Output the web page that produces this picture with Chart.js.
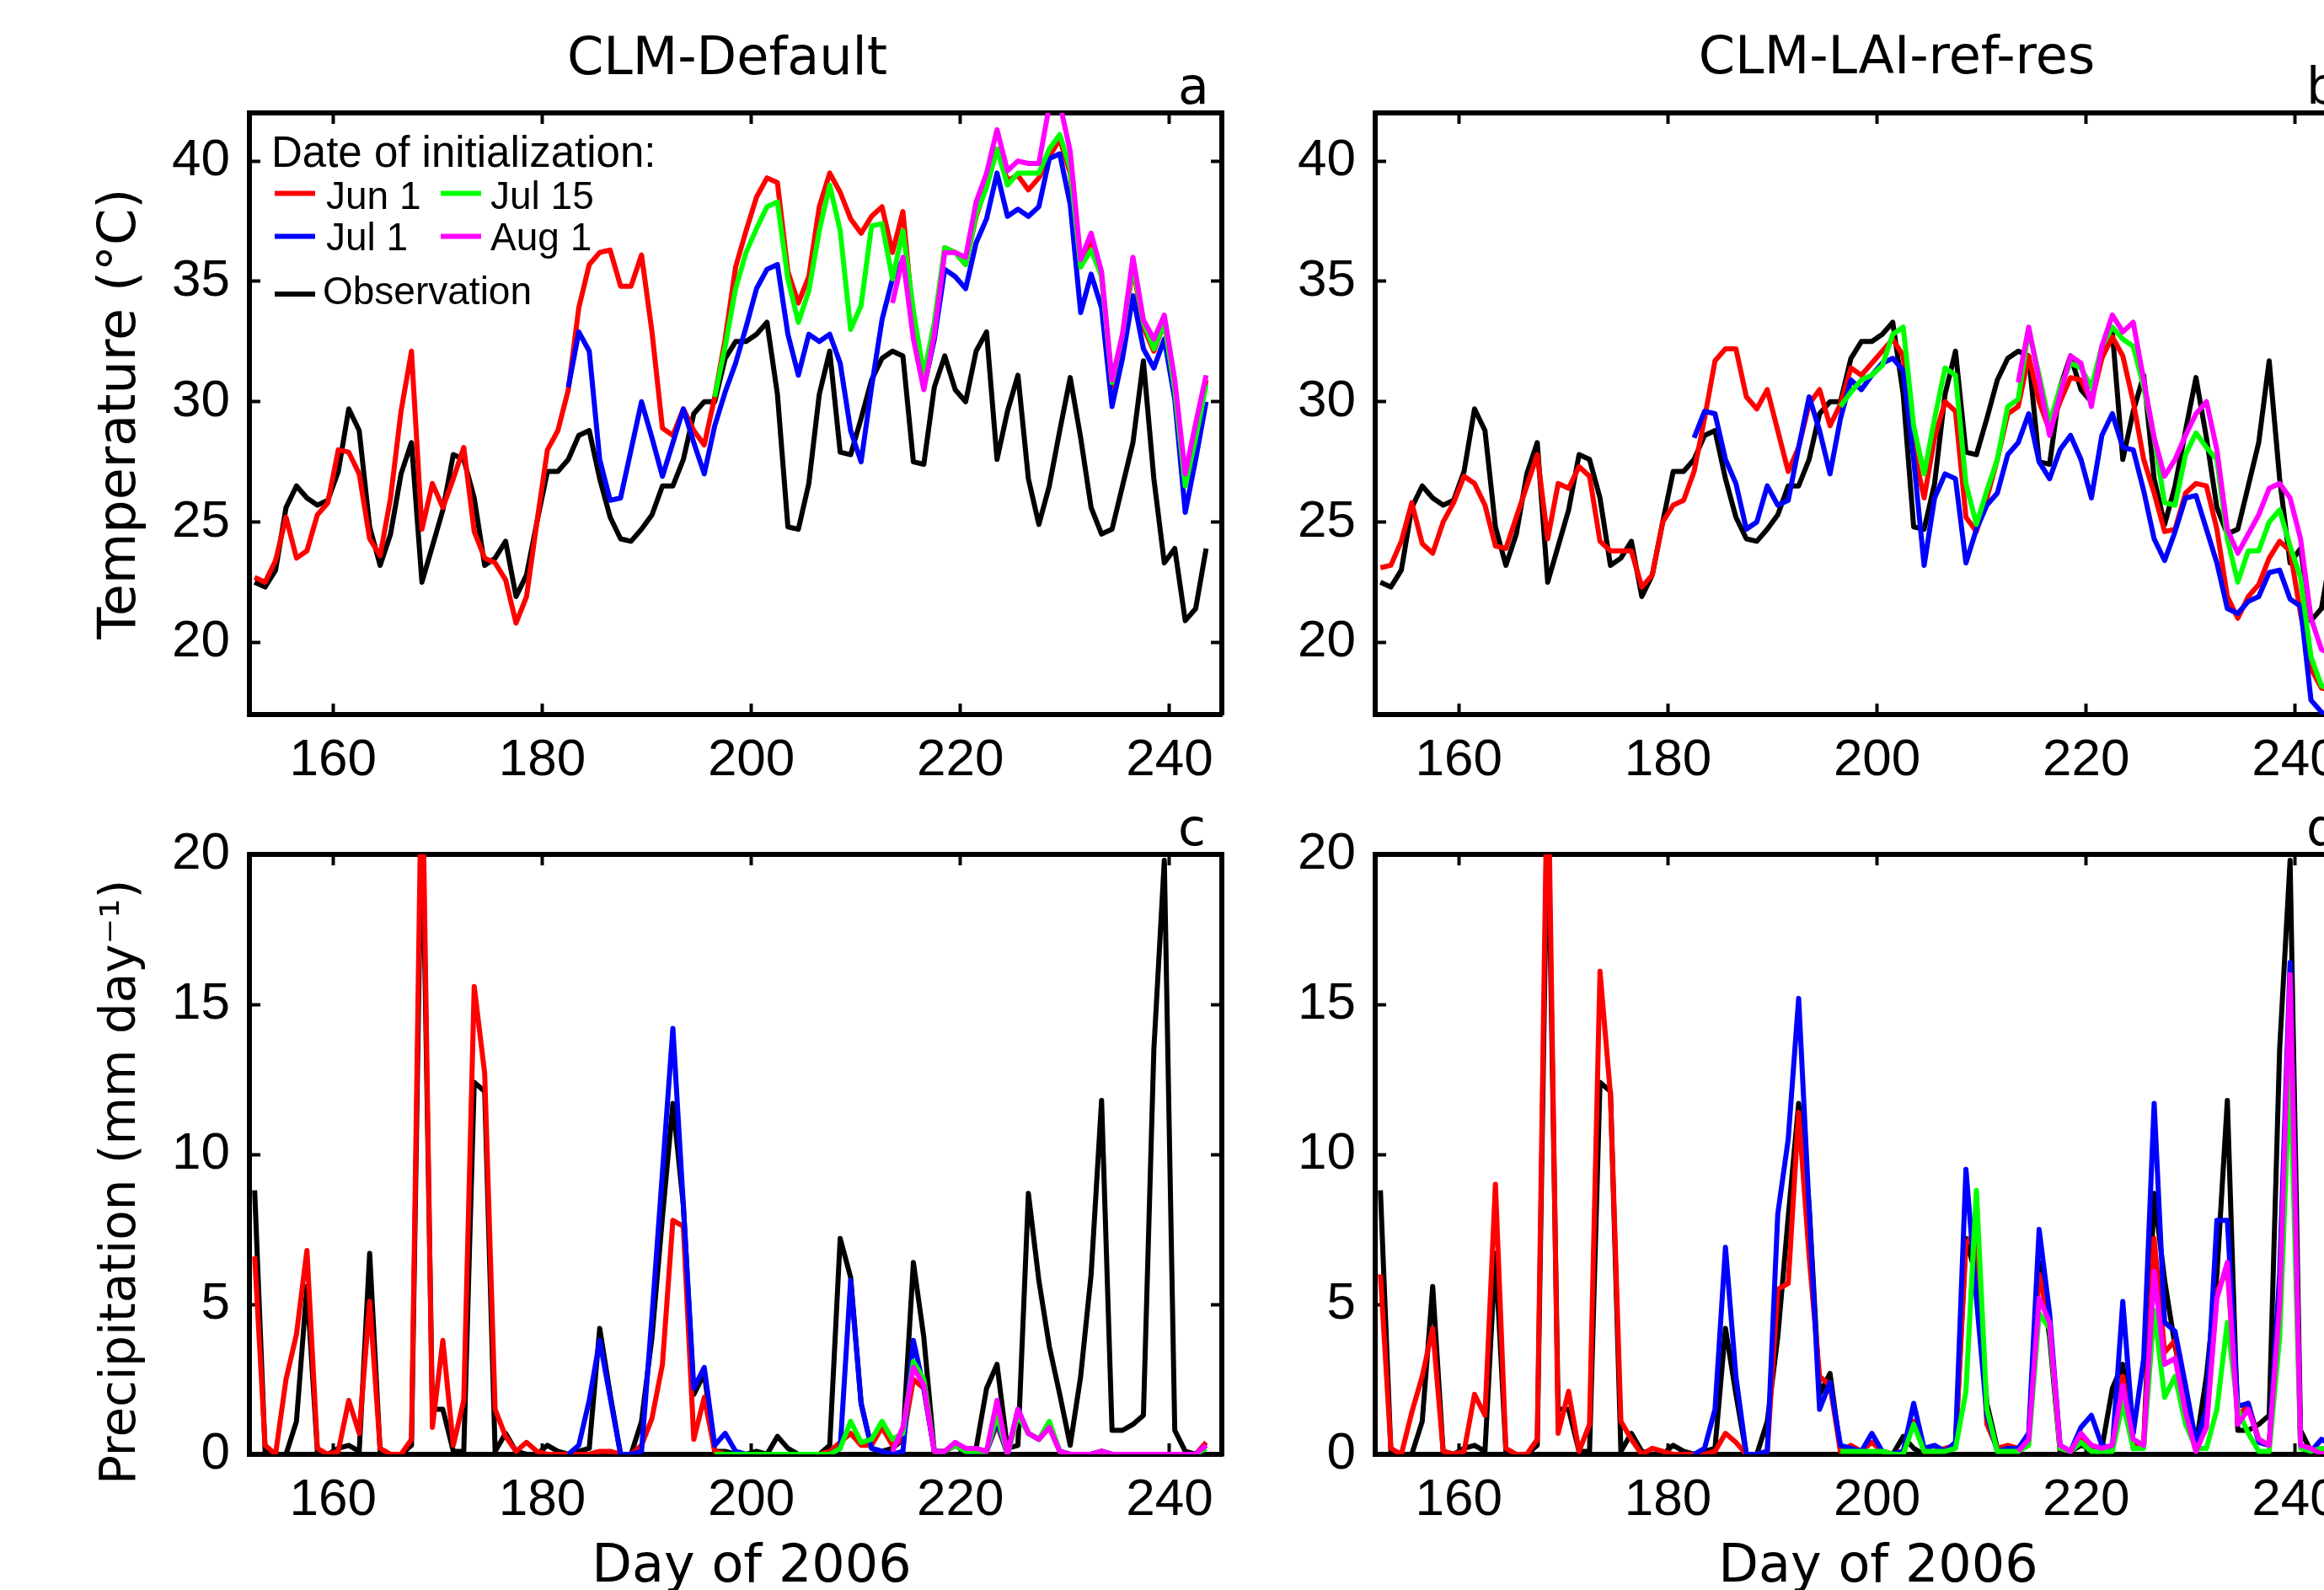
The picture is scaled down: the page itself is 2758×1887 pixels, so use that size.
<!DOCTYPE html>
<html lang="en">
<head>
    <meta charset="UTF-8">
    <title>CLM temperature and precipitation, summer 2006</title>
    <script src="https://cdn.jsdelivr.net/npm/chart.js"></script>
    <style>
        html, body { margin: 0; padding: 0; background: #fff; overflow: hidden; }
        body { position: relative; width: 2758px; height: 1887px; }
        canvas { position: absolute; }
    </style>
</head>
<body>
    <canvas id="panelA" width="1500" height="960" style="left:0;top:0"></canvas>
    <canvas id="panelB" width="1500" height="960" style="left:1336px;top:0"></canvas>
    <canvas id="panelC" width="1500" height="1012" style="left:0;top:880px"></canvas>
    <canvas id="panelD" width="1500" height="1012" style="left:1336px;top:880px"></canvas>

    <script>
        // Day of year (Jun 1 .. Aug 31 2006), daily values
        const days = [152, 153, 154, 155, 156, 157, 158, 159, 160, 161, 162, 163, 164, 165, 166, 167, 168, 169, 170, 171,
            172, 173, 174, 175, 176, 177, 178, 179, 180, 181, 182, 183, 184, 185, 186, 187, 188, 189, 190, 191,
            192, 193, 194, 195, 196, 197, 198, 199, 200, 201, 202, 203, 204, 205, 206, 207, 208, 209, 210, 211,
            212, 213, 214, 215, 216, 217, 218, 219, 220, 221, 222, 223, 224, 225, 226, 227, 228, 229, 230, 231,
            232, 233, 234, 235, 236, 237, 238, 239, 240, 241, 242, 243];

        // first day of each model run
        const startJun1 = 152;
        const startJul1 = 182;
        const startJul15 = 196;
        const startAug1 = 213;

        const dayTicks = [160, 180, 200, 220, 240];
        const tempTicks = [20, 25, 30, 35, 40];
        const precipTicks = [0, 5, 10, 15, 20];

        // ---- temperature (deg C) ----
        const tempObs = [22.5, 22.3, 23.0, 25.6, 26.5, 26.0, 25.7, 25.9, 27.1, 29.7,
            28.8, 24.8, 23.2, 24.5, 27.0, 28.3, 22.5, 24.0, 25.5, 27.8,
            27.6, 26.0, 23.2, 23.5, 24.2, 21.9, 22.8, 25.0, 27.1, 27.1,
            27.6, 28.6, 28.8, 26.8, 25.2, 24.3, 24.2, 24.7, 25.3, 26.5,
            26.5, 27.6, 29.5, 30.0, 30.0, 31.8, 32.5, 32.5, 32.8, 33.3,
            30.3, 24.8, 24.7, 26.6, 30.3, 32.1, 27.9, 27.8, 29.3, 30.9,
            31.8, 32.1, 31.9, 27.5, 27.4, 30.6, 31.9, 30.5, 30.0, 32.1,
            32.9, 27.6, 29.6, 31.1, 26.8, 24.9, 26.5, 28.8, 31.0, 28.5,
            25.6, 24.5, 24.7, 26.5, 28.3, 31.7, 26.8, 23.3, 23.9, 20.9,
            21.4, 23.9];

        // CLM-Default
        const tempDefJun1 = [22.7, 22.5, 23.4, 25.2, 23.5, 23.8, 25.3, 25.8, 28.0, 27.9,
            27.0, 24.3, 23.6, 26.0, 29.6, 32.1, 24.7, 26.6, 25.6, 26.8,
            28.1, 24.6, 23.5, 23.3, 22.6, 20.8, 21.9, 25.0, 28.0, 28.8,
            30.5, 33.9, 35.7, 36.2, 36.3, 34.8, 34.8, 36.1, 32.9, 28.9,
            28.6, 29.7, 28.8, 28.2, 30.2, 32.6, 35.6, 37.1, 38.5, 39.3,
            39.1, 35.4, 34.1, 35.2, 38.1, 39.5, 38.7, 37.6, 37.0, 37.7,
            38.1, 36.2, 37.9, 33.3, 30.6, 32.6, 36.4, 36.2, 35.7, 37.7,
            39.0, 40.5, 39.2, 39.4, 38.8, 39.3, 40.2, 40.9, 39.5, 35.6,
            36.8, 35.2, 30.6, 32.6, 35.6, 33.1, 32.1, 33.3, 30.3, 26.6,
            28.6, 30.9];
        const tempDefJul1 = [30.6, 32.9, 32.1, 27.6, 25.9, 26.0, 28.0, 30.0, 28.5, 26.9,
            28.3, 29.7, 28.3, 27.0, 29.0, 30.4, 31.6, 33.1, 34.7, 35.5,
            35.7, 32.8, 31.1, 32.8, 32.5, 32.8, 31.6, 28.8, 27.5, 30.6,
            33.4, 35.1, 35.9, 33.1, 30.6, 32.6, 35.5, 35.2, 34.7, 36.6,
            37.6, 39.5, 37.7, 38.0, 37.7, 38.1, 40.1, 40.3, 38.2, 33.7,
            35.3, 33.9, 29.8, 31.8, 34.4, 32.2, 31.4, 32.6, 30.1, 25.4,
            27.6, 30.0];
        const tempDefJul15 = [30.2, 32.3, 34.7, 36.2, 37.2, 38.1,
            38.3, 35.1, 33.3, 34.6, 37.1, 39.0, 37.1, 33.0, 34.0, 37.3,
            37.4, 35.1, 37.1, 33.8, 31.1, 33.3, 36.4, 36.2, 35.7, 37.8,
            38.9, 40.5, 39.0, 39.5, 39.5, 39.5, 40.5, 41.1, 39.7, 35.6,
            36.3, 35.2, 30.8, 32.8, 35.7, 33.3, 32.2, 33.3, 30.5, 26.5,
            28.5, 30.7];
        const tempDefAug1 = [34.1, 36.0, 32.6, 30.5, 32.8, 36.2, 36.2, 36.0, 38.3, 39.5,
            41.3, 39.6, 40.0, 39.9, 39.9, 42.3, 42.4, 40.4, 35.9, 37.0,
            35.4, 30.9, 32.8, 36.0, 33.4, 32.6, 33.6, 30.9, 27.0, 29.1,
            31.1];

        // CLM-LAI-ref-res
        const tempLaiJun1 = [23.1, 23.2, 24.2, 25.8, 24.1, 23.7, 25.0, 25.8, 26.9, 26.6,
            25.7, 24.0, 23.9, 25.2, 26.5, 27.8, 24.3, 26.6, 26.4, 27.3,
            26.9, 24.2, 23.8, 23.8, 23.8, 22.3, 22.8, 25.0, 25.7, 25.9,
            27.1, 29.3, 31.7, 32.2, 32.2, 30.2, 29.7, 30.5, 28.8, 27.1,
            28.1, 29.9, 30.5, 29.0, 29.9, 31.4, 31.1, 31.6, 32.1, 32.6,
            31.9, 28.0, 26.0, 28.5, 30.0, 29.6, 25.2, 24.6, 26.0, 27.6,
            29.5, 29.8, 31.9, 30.0, 28.8, 30.0, 31.0, 30.9, 30.0, 31.8,
            32.7, 31.9, 30.0, 27.6, 26.2, 24.6, 24.7, 26.2, 26.6, 26.5,
            24.7, 21.9, 21.0, 21.9, 22.4, 23.5, 24.2, 23.8, 21.2, 18.9,
            18.1, 18.0];
        const tempLaiJul1 = [28.5, 29.6, 29.5, 27.6, 26.6, 24.7, 25.0, 26.5, 25.7, 25.9,
            28.1, 30.2, 28.8, 27.0, 29.3, 30.9, 30.5, 31.1, 31.6, 31.8,
            31.3, 27.6, 23.2, 26.0, 27.0, 26.8, 23.3, 24.7, 25.7, 26.2,
            27.8, 28.3, 29.5, 27.5, 26.8, 28.0, 28.6, 27.6, 26.0, 28.6,
            29.5, 28.1, 28.0, 26.3, 24.3, 23.4, 24.6, 26.0, 26.1, 24.7,
            23.3, 21.4, 21.2, 21.7, 21.9, 22.9, 23.0, 21.8, 21.5, 17.6,
            17.1, 16.8];
        const tempLaiJul15 = [29.8, 30.4, 30.9, 31.1, 31.5, 32.8,
            33.1, 29.0, 27.0, 29.3, 31.4, 31.1, 26.6, 24.9, 26.3, 27.6,
            29.8, 30.1, 33.0, 31.1, 29.1, 30.6, 31.6, 31.4, 30.6, 32.3,
            33.1, 32.6, 32.3, 30.6, 28.5, 25.8, 25.7, 27.8, 28.7, 28.1,
            27.6, 24.3, 22.5, 23.8, 23.8, 25.0, 25.5, 24.0, 22.7, 19.4,
            18.2, 18.0];
        const tempLaiAug1 = [30.8, 33.1, 30.9, 28.6, 30.3, 31.9, 31.6, 29.8, 32.3, 33.6,
            32.9, 33.3, 30.9, 28.5, 26.9, 27.6, 28.6, 29.5, 30.0, 28.0,
            24.7, 23.7, 24.5, 25.3, 26.4, 26.6, 26.0, 24.3, 21.0, 19.7,
            19.5];

        // ---- precipitation (mm/day) ----
        const precipObs = [8.8, 0.1, 0, 0, 1.1, 5.6, 0.1, 0, 0.2, 0.3,
            0.1, 6.7, 0.1, 0, 0, 0.3, 22, 1.5, 1.5, 0.1,
            0.1, 12.4, 12.1, 0.1, 0.7, 0.1, 0, 0, 0.3, 0.1,
            0, 0.1, 0.2, 4.2, 2.0, 0, 0, 1.1, 3.9, 7.9,
            11.7, 8.3, 2.0, 2.7, 0.1, 0.1, 0, 0, 0.1, 0,
            0.6, 0.2, 0, 0, 0, 0.3, 7.2, 5.9, 1.7, 0.2,
            0.1, 0.2, 0.5, 6.4, 3.9, 0.1, 0.1, 0.3, 0.2, 0.2,
            2.2, 3.0, 0.2, 0.3, 8.7, 5.8, 3.6, 2.0, 0.3, 2.6,
            6.0, 11.8, 0.8, 0.8, 1.0, 1.3, 13.5, 19.8, 0.8, 0.1,
            0, 0];

        const precipDefJun1 = [6.6, 0.3, 0, 2.5, 4.0, 6.8, 0.2, 0, 0.1, 1.8,
            0.7, 5.1, 0.2, 0, 0, 0.5, 24, 0.9, 3.8, 0.3,
            1.8, 15.6, 12.7, 1.5, 0.6, 0.1, 0.4, 0.1, 0, 0,
            0, 0, 0, 0.1, 0.1, 0, 0, 0.3, 1.2, 3.0,
            7.8, 7.6, 0.5, 1.9, 0.1, 0, 0, 0, 0, 0,
            0, 0, 0, 0, 0, 0.1, 0.4, 0.7, 0.3, 0.3,
            0.9, 0.3, 0.5, 2.5, 2.2, 0.1, 0.1, 0.3, 0.1, 0.1,
            0.1, 1.0, 0, 1.4, 0.7, 0.5, 0.9, 0.1, 0, 0,
            0, 0.1, 0, 0, 0, 0, 0, 0, 0, 0,
            0, 0.4];
        const precipDefJul1 = [0, 0.3, 1.8, 3.8, 1.9, 0, 0, 0.1, 4.6, 9.4,
            14.2, 8.3, 2.2, 2.9, 0.3, 0.7, 0.1, 0, 0, 0,
            0, 0, 0, 0, 0, 0, 0.2, 5.8, 1.7, 0.2,
            0.1, 0, 0.1, 3.8, 2.2, 0.1, 0.1, 0.3, 0.1, 0.1,
            0.1, 1.1, 0, 1.5, 0.7, 0.5, 1.0, 0.1, 0, 0,
            0, 0.1, 0, 0, 0, 0, 0, 0, 0, 0,
            0, 0.3];
        const precipDefJul15 = [0, 0, 0, 0, 0, 0,
            0, 0, 0, 0, 0, 0, 0.2, 1.1, 0.4, 0.5,
            1.1, 0.5, 0.7, 3.1, 2.5, 0.1, 0.1, 0.3, 0.1, 0.1,
            0.1, 1.3, 0, 1.3, 0.7, 0.5, 1.1, 0.1, 0, 0,
            0, 0, 0, 0, 0, 0, 0, 0, 0, 0,
            0, 0.2];
        const precipDefAug1 = [0.1, 0.9, 2.9, 2.3, 0.1, 0.1, 0.4, 0.2, 0.2, 0.1,
            1.8, 0, 1.5, 0.7, 0.5, 0.9, 0.1, 0, 0, 0,
            0.1, 0, 0, 0, 0, 0, 0, 0, 0, 0,
            0.3];

        const precipLaiJun1 = [6.0, 0.2, 0, 1.4, 2.6, 4.2, 0.1, 0, 0.1, 2.0,
            1.3, 9.0, 0.2, 0, 0, 0.5, 24, 0.7, 2.1, 0.1,
            1.0, 16.1, 12.0, 1.1, 0.5, 0, 0.2, 0.1, 0, 0,
            0, 0, 0.1, 0.7, 0.4, 0, 0, 0.1, 5.5, 5.7,
            11.4, 6.6, 2.6, 2.3, 0.1, 0.3, 0.1, 0.4, 0.1, 0,
            0.1, 1.1, 0.1, 0.1, 0.2, 0.3, 7.0, 7.5, 1.0, 0.2,
            0.3, 0.2, 0.6, 6.0, 4.4, 0.2, 0.1, 0.6, 0.3, 0.2,
            0.3, 2.6, 0.4, 0.3, 7.2, 3.4, 3.8, 1.3, 0.1, 1.0,
            5.4, 6.2, 1.2, 1.7, 0.5, 0.3, 5.5, 15.8, 0.3, 0.2,
            0.1, 0.1];
        const precipLaiJul1 = [0, 0.2, 1.5, 6.9, 2.6, 0, 0, 0.1, 8.0, 10.5,
            15.2, 8.2, 1.5, 2.4, 0.3, 0.2, 0.1, 0.7, 0.1, 0,
            0.1, 1.7, 0.2, 0.3, 0.1, 0.4, 9.5, 5.2, 1.3, 0.1,
            0.2, 0.2, 0.7, 7.5, 4.7, 0.3, 0.1, 0.9, 1.3, 0.3,
            0.2, 5.1, 0.7, 3.2, 11.7, 4.4, 4.1, 2.3, 0.4, 1.5,
            7.8, 7.8, 1.6, 1.7, 0.4, 0.3, 6.0, 16.4, 0.3, 0.1,
            0.5, 0.3];
        const precipLaiJul15 = [0.1, 0.1, 0.1, 0.1, 0.1, 0,
            0, 1.0, 0.1, 0.1, 0.1, 0.2, 2.1, 8.8, 1.5, 0.1,
            0.1, 0.1, 0.3, 4.7, 4.2, 0.2, 0.1, 0.4, 0.1, 0.1,
            0.1, 1.7, 0.2, 0.2, 4.8, 1.9, 2.6, 1.0, 0.2, 0.2,
            1.5, 4.4, 1.5, 0.7, 0.1, 0.1, 3.9, 13.0, 0.2, 0.1,
            0.2, 0.1];
        const precipLaiAug1 = [0.1, 0.5, 5.2, 4.4, 0.3, 0.1, 0.7, 0.3, 0.2, 0.3,
            2.3, 0.5, 0.3, 6.1, 3.0, 3.2, 1.4, 0.1, 0.9, 5.2,
            6.4, 1.0, 1.5, 0.5, 0.3, 5.0, 16.0, 0.3, 0.2, 0,
            0.1];

        const RED = '#ff0000', BLUE = '#0000ff', GREEN = '#00ff00', MAGENTA = '#ff00ff', BLACK = '#000000';
        const tickFont = { family: "'Liberation Sans', Arial, sans-serif", size: 62 };

        // daily means are drawn at mid-day
        function points(values, startDay) {
            const i0 = days.indexOf(startDay);
            return values.map((v, i) => ({ x: days[i0 + i] + 0.5, y: v }));
        }

        function line(label, color, values, startDay, order) {
            return {
                label: label,
                data: points(values, startDay),
                borderColor: color,
                backgroundColor: color,
                borderWidth: 6,
                pointRadius: 0,
                tension: 0,
                borderJoinStyle: 'round',
                clip: 0,
                order: order,
                xAxisID: 'x',
                yAxisID: 'y'
            };
        }

        function runSets(obs, jun1, jul1, jul15, aug1) {
            return [
                line('Aug 1', MAGENTA, aug1, startAug1, 1),
                line('Jul 15', GREEN, jul15, startJul15, 2),
                line('Jul 1', BLUE, jul1, startJul1, 3),
                line('Jun 1', RED, jun1, startJun1, 4),
                line('Observation', BLACK, obs, startJun1, 5)
            ];
        }

        // plain MATLAB-like box with inward ticks on all four sides
        function edge(position, min, max, tickValues, fitSize) {
            const horiz = position === 'top' || position === 'bottom';
            return {
                type: 'linear',
                position: position,
                min: min,
                max: max,
                afterBuildTicks: s => { s.ticks = tickValues.map(v => ({ value: v })); },
                afterFit: s => { if (horiz) s.height = fitSize; else s.width = fitSize; },
                grid: { drawOnChartArea: false, drawTicks: true, tickLength: -13, tickWidth: 4, tickColor: BLACK },
                border: { display: true, width: 6, color: BLACK },
                ticks: { display: false }
            };
        }

        function panelScales(p) {
            const a = p.area;
            const x = edge('bottom', 152, 245, dayTicks, p.h - a.bottom);
            x.ticks = { display: true, font: tickFont, color: BLACK, padding: 31, maxRotation: 0, autoSkip: false };
            const y = edge('left', p.yMin, p.yMax, p.yTicks, a.left);
            y.ticks = { display: true, font: tickFont, color: BLACK, padding: 36, autoSkip: false };
            return {
                x: x,
                xTop: edge('top', 152, 245, dayTicks, a.top),
                y: y,
                yRight: edge('right', p.yMin, p.yMax, p.yTicks, p.w - a.right)
            };
        }

        // titles, axis labels, panel letters and the legend, drawn on the canvas
        const panelText = {
            id: 'panelText',
            afterDraw(chart, args, opts) {
                const ctx = chart.ctx;
                const area = chart.chartArea;
                ctx.save();
                ctx.fillStyle = BLACK;
                ctx.textBaseline = 'alphabetic';
                (opts.texts || []).forEach(t => {
                    ctx.save();
                    ctx.font = t.font;
                    ctx.textAlign = t.align || 'left';
                    ctx.translate(t.x, t.y);
                    if (t.rotate) ctx.rotate(t.rotate);
                    ctx.fillText(t.text, 0, 0);
                    ctx.restore();
                });
                if (opts.legend) {
                    const L = opts.legend;
                    const ox = area.left, oy = area.top;
                    ctx.textAlign = 'left';
                    ctx.font = "51px 'Liberation Sans', Arial, sans-serif";
                    ctx.fillText(L.title, ox + 26, oy + 64);
                    ctx.font = "46px 'Liberation Sans', Arial, sans-serif";
                    L.items.forEach(it => {
                        ctx.strokeStyle = it.color;
                        ctx.lineWidth = 6;
                        ctx.beginPath();
                        ctx.moveTo(ox + it.sx, oy + it.sy);
                        ctx.lineTo(ox + it.sx + 48, oy + it.sy);
                        ctx.stroke();
                        ctx.fillText(it.text, ox + it.tx, oy + it.ty);
                    });
                }
                ctx.restore();
            }
        };

        const legendDef = {
            title: 'Date of initialization:',
            items: [
                { text: 'Jun 1', color: RED, sx: 30, sy: 95.5, tx: 91, ty: 113.5 },
                { text: 'Jul 15', color: GREEN, sx: 227, sy: 95.5, tx: 286, ty: 113.5 },
                { text: 'Jul 1', color: BLUE, sx: 30, sy: 146.5, tx: 91, ty: 163 },
                { text: 'Aug 1', color: MAGENTA, sx: 227, sy: 146.5, tx: 286, ty: 163 },
                { text: 'Observation', color: BLACK, sx: 30, sy: 215, tx: 87, ty: 227 }
            ]
        };

        const titleFont = "62px 'DejaVu Sans', sans-serif";
        const letterFont = "60px 'DejaVu Sans', sans-serif";
        const xLabelFont = "62px 'DejaVu Sans', sans-serif";
        const UP = -Math.PI / 2;

        function makePanel(id, p, datasets, texts, legend) {
            const ctx = document.getElementById(id).getContext('2d');
            return new Chart(ctx, {
                type: 'line',
                data: { datasets: datasets },
                options: {
                    responsive: false,
                    animation: false,
                    events: [],
                    layout: { padding: 0, autoPadding: false },
                    plugins: {
                        legend: { display: false },
                        tooltip: { enabled: false },
                        panelText: { texts: texts, legend: legend }
                    },
                    scales: panelScales(p)
                },
                plugins: [panelText]
            });
        }

        const topArea = { left: 296, top: 134, right: 1450, bottom: 848 };
        const bottomArea = { left: 296, top: 134, right: 1450, bottom: 846 };

        makePanel('panelA',
            { w: 1500, h: 960, area: topArea, yMin: 17, yMax: 42, yTicks: tempTicks },
            runSets(tempObs, tempDefJun1, tempDefJul1, tempDefJul15, tempDefAug1),
            [
                { text: 'CLM-Default', x: 863, y: 88, font: titleFont, align: 'center' },
                { text: 'a', x: 1398, y: 123, font: letterFont },
                { text: 'Temperature (°C)', x: 160, y: 491, font: "62px 'DejaVu Sans', sans-serif", align: 'center', rotate: UP }
            ],
            legendDef);

        makePanel('panelB',
            { w: 1500, h: 960, area: topArea, yMin: 17, yMax: 42, yTicks: tempTicks },
            runSets(tempObs, tempLaiJun1, tempLaiJul1, tempLaiJul15, tempLaiAug1),
            [
                { text: 'CLM-LAI-ref-res', x: 915, y: 87, font: titleFont, align: 'center' },
                { text: 'b', x: 1401, y: 123, font: letterFont }
            ]);

        makePanel('panelC',
            { w: 1500, h: 1012, area: bottomArea, yMin: 0, yMax: 20, yTicks: precipTicks },
            runSets(precipObs, precipDefJun1, precipDefJul1, precipDefJul15, precipDefAug1),
            [
                { text: 'c', x: 1398, y: 123, font: letterFont },
                { text: 'Precipitation (mm day⁻¹)', x: 160, y: 523, font: "58px 'DejaVu Sans', sans-serif", align: 'center', rotate: UP },
                { text: 'Day of 2006', x: 892, y: 997, font: xLabelFont, align: 'center' }
            ]);

        makePanel('panelD',
            { w: 1500, h: 1012, area: bottomArea, yMin: 0, yMax: 20, yTicks: precipTicks },
            runSets(precipObs, precipLaiJun1, precipLaiJul1, precipLaiJul15, precipLaiAug1),
            [
                { text: 'd', x: 1401, y: 123, font: letterFont },
                { text: 'Day of 2006', x: 893, y: 997, font: xLabelFont, align: 'center' }
            ]);
    </script>
</body>
</html>
